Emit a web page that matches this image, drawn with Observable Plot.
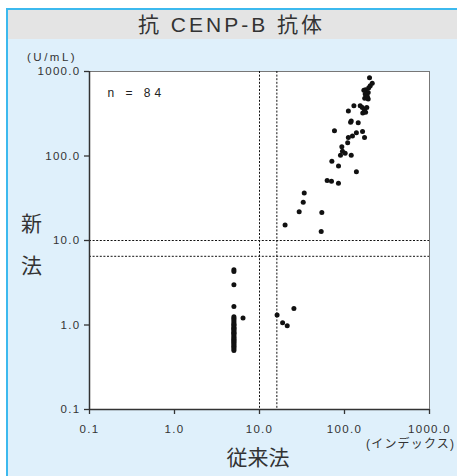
<!DOCTYPE html>
<html><head><meta charset="utf-8">
<script src="https://cdn.jsdelivr.net/npm/d3@7"></script>
<script src="https://cdn.jsdelivr.net/npm/@observablehq/plot@0.6"></script>
<style>
body{margin:0;background:#fff;}
#wrap{position:relative;width:457px;height:476px;overflow:hidden;background:#fff;font-family:"Liberation Sans","Noto Sans CJK JP",sans-serif;color:#333;}
#panel{position:absolute;left:6px;top:8px;width:470px;height:490px;background:#dff0fb;border-left:2px solid #3cb9ee;border-top:2px solid #3cb9ee;}
#head{position:absolute;left:8px;top:10px;width:460px;height:29px;background:#e4e4e4;}
.t{position:absolute;white-space:nowrap;}
#title{left:0;width:463px;top:10px;height:29px;line-height:29px;text-align:center;font-size:21px;letter-spacing:3px;}
#unit{left:27px;top:51px;font-size:11.5px;letter-spacing:2.5px;}
#ylab1{left:21px;top:207px;font-size:21px;}
#ylab2{left:21px;top:249px;font-size:21px;}
#xlab{left:0;width:516px;text-align:center;top:441px;font-size:21px;}
#xunit{left:366px;top:434px;font-size:12px;letter-spacing:1.2px;}
#wrap svg{position:absolute;left:0;top:0;}
#wrap svg g[aria-label="text"] text{letter-spacing:4px;}
</style></head>
<body>
<div id="wrap">
  <div id="panel"></div>
  <div id="head"></div>
  <div class="t" id="title">抗 CENP-B 抗体</div>
  <div class="t" id="unit">(U/mL)</div>
  <div class="t" id="ylab1">新</div>
  <div class="t" id="ylab2">法</div>
  <div class="t" id="xlab">従来法</div>
  <div class="t" id="xunit">(インデックス)</div>
</div>
<script>
// Conventional method (index) and new method (U/mL)
const conventional = [
  5,5,5,5,5,5,5,5,5,5,5,5,5,5,5,5,5,5,5,5,5,5,5,5,5,5,5,5,5,5,5,5,
  6.4,
  25.4,16.1,18.7,21.2,
  20.0,29.3,32.7,33.6,54.1,53.2,62.5,70.3,84.9,
  76.2,138,163,111,124,172,109,93,94.6,101.8,89.7,120,71,85,138,
  197,212,201,193,177,190,183,173,190,153,162,171,183,164,177,129,111,145,120,118,169,175,186
];
const newMethod = [
  4.5,4.3,3.0,1.65,1.25,1.2,1.15,1.1,1.05,1.0,1.0,0.95,0.92,0.9,0.88,0.85,0.82,0.8,0.78,0.75,0.72,0.7,0.68,0.66,0.64,0.62,0.6,0.58,0.56,0.54,0.52,0.5,
  1.21,
  1.57,1.31,1.06,0.98,
  15.3,21.9,28.3,36.4,21.5,12.8,51.2,50.3,47.7,
  198.6,188,195,166,172,166,143.5,129,113.5,107.6,101.8,101.8,86.7,76.2,64.9,
  841,728,679,643,609,566,526,481,472,394,374,354,374,323,329,394,341,247,260,251,600,540,500
];
const cutoffX = [10, 16];
const cutoffY = [10, 6.5];
const tickValues = [0.1, 1, 10, 100, 1000];
const tickLabels = ["0.1", "1.0", "10.0", "100.0", "1000.0"];
const nLabel = "n = 84";

const data = conventional.map((x, i) => ({x, y: newMethod[i]}));
const fmt = d => tickLabels[tickValues.indexOf(d)];

const chart = Plot.plot({
  width: 457, height: 476,
  marginLeft: 89, marginRight: 28, marginTop: 71, marginBottom: 67,
  style: {background: "transparent", fontFamily: "Liberation Sans, Arial, sans-serif", fontSize: "11.5px", color: "#333", letterSpacing: "1.3px"},
  x: {type: "log", domain: [0.1, 1000]},
  y: {type: "log", domain: [0.1, 1000]},
  marks: [
    Plot.frame({fill: "white", stroke: "#777", strokeWidth: 1}),
    Plot.ruleX(cutoffX, {stroke: "#111", strokeDasharray: "2,1.6", strokeWidth: 1}),
    Plot.ruleY(cutoffY, {stroke: "#111", strokeDasharray: "2,1.6", strokeWidth: 1}),
    Plot.ruleX([0.1], {stroke: "#333", strokeWidth: 1.5}),
    Plot.ruleY([0.1], {stroke: "#333", strokeWidth: 1.5}),
    Plot.axisX({ticks: tickValues, tickFormat: fmt, tickSize: 5, tickPadding: 10, label: null, strokeWidth: 1.3}),
    Plot.axisY({ticks: tickValues, tickFormat: fmt, tickSize: 5, tickPadding: 4, label: null, strokeWidth: 1.3}),
    Plot.dot(data, {x: "x", y: "y", r: 2.5, fill: "#111", stroke: "none"}),
    Plot.text([nLabel], {frameAnchor: "top-left", dx: 18, dy: 17, fontSize: 12, text: d => d, fill: "#222"})
  ]
});
document.getElementById("wrap").appendChild(chart);
</script>
</body></html>
